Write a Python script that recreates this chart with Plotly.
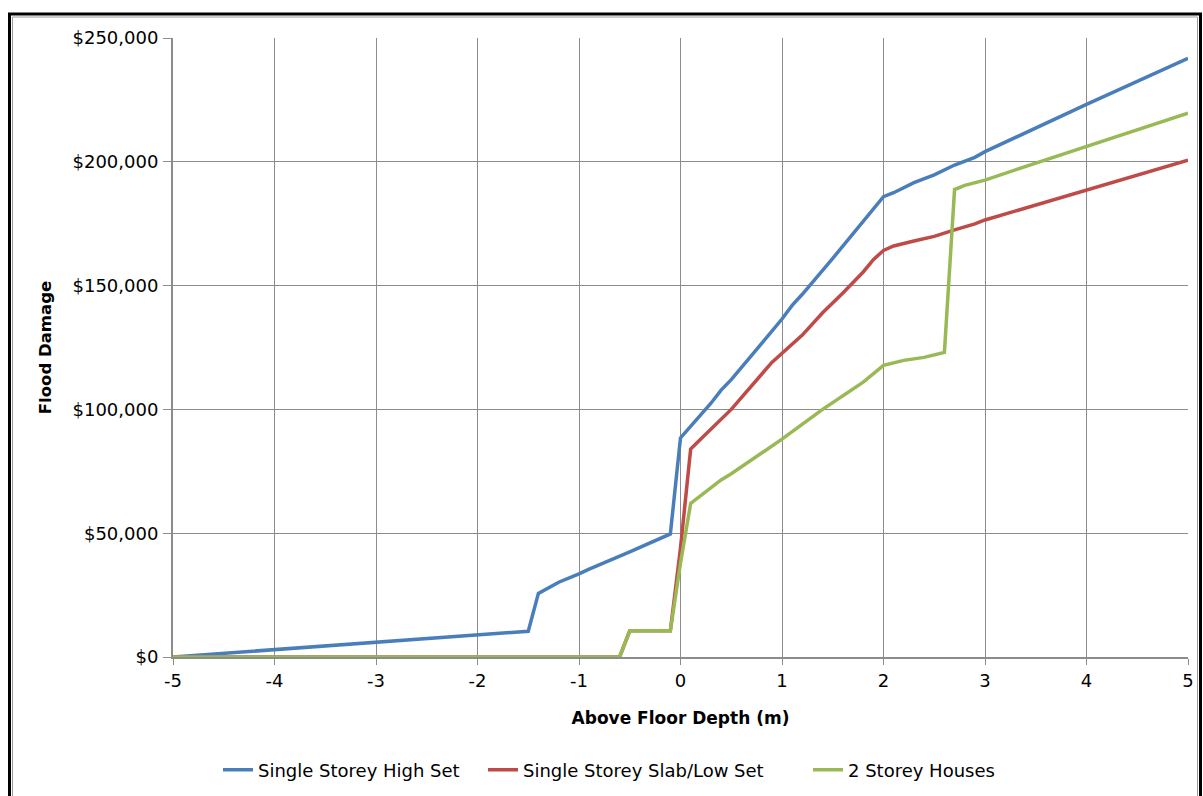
import plotly.graph_objects as go

# Single Storey High Set
high_x = [-5, -1.5, -1.4, -1.2, -1.0, -0.9, -0.5, -0.4, -0.1, 0, 0.3, 0.4, 0.5, 0.8, 1.0, 1.1, 1.2,
          1.5, 1.7, 1.9, 2.0, 2.1, 2.3, 2.5, 2.7, 2.9, 3.0, 4.0, 5.0]
high_y = [0, 10400, 25700, 30200, 33600, 35500, 42500, 44300, 49700, 88500, 102500, 107800, 112000,
          126700, 136500, 142000, 146500, 161000, 171000, 181000, 185900, 187500, 191600, 194700,
          198700, 201800, 204100, 223200, 241800]

# Single Storey Slab/Low Set
low_x = [-5, -0.6, -0.5, -0.1, 0, 0.1, 0.2, 0.5, 0.9, 1.2, 1.4, 1.6, 1.8, 1.9, 2.0, 2.1, 2.3,
         2.5, 2.7, 2.9, 3.0, 4.0, 5.0]
low_y = [0, 0, 10600, 10600, 44000, 84000, 88000, 100000, 119000, 130000, 139000, 147000, 155500,
         160500, 164200, 166000, 168000, 169900, 172500, 174900, 176500, 188600, 200700]

# 2 Storey Houses
two_x = [-5, -0.6, -0.5, -0.1, 0, 0.1, 0.4, 0.5, 1.0, 1.4, 1.8, 2.0, 2.2, 2.4, 2.6, 2.7, 2.8,
         2.9, 3.0, 3.5, 4.0, 4.5, 5.0]
two_y = [0, 0, 10600, 10600, 38000, 62000, 71500, 74000, 88000, 100000, 111000, 117800, 119800,
         121000, 123000, 188800, 190500, 191500, 192600, 199500, 206100, 212800, 219600]

series_names = ["Single Storey High Set", "Single Storey Slab/Low Set", "2 Storey Houses"]
colors = ["#4A7EBB", "#BE4B48", "#98B954"]

x_ticks = [-5, -4, -3, -2, -1, 0, 1, 2, 3, 4, 5]
x_labels = ["-5", "-4", "-3", "-2", "-1", "0", "1", "2", "3", "4", "5"]
y_ticks = [0, 50000, 100000, 150000, 200000, 250000]
y_labels = ["$0", "$50,000", "$100,000", "$150,000", "$200,000", "$250,000"]

FONT = "DejaVu Sans, Verdana, sans-serif"

L, R, T, B = 173, 15, 38, 139
W, H = 1203, 796
pw, ph = W - L - R, H - T - B

def px_to_paper_x(px):
    return (px - L) / pw

def px_to_paper_y(py):
    return (H - B - py) / ph

legend_ids = ["legend", "legend2", "legend3"]
legend_left_px = [218, 483, 808]

fig = go.Figure()
for xs, ys, name, c, lid in zip([high_x, low_x, two_x], [high_y, low_y, two_y],
                                series_names, colors, legend_ids):
    fig.add_trace(go.Scatter(x=xs, y=ys, mode="lines", name=name, legend=lid,
                             line=dict(color=c, width=3.5)))

legend_layout = {}
for lid, lx in zip(legend_ids, legend_left_px):
    legend_layout[lid] = dict(orientation="h", xref="container", yref="container",
                              x=lx / W, y=(H - 770) / H,
                              xanchor="left", yanchor="middle", font=dict(size=18),
                              itemwidth=30, bgcolor="rgba(0,0,0,0)")

fig.update_layout(
    width=W, height=H,
    margin=dict(l=L, r=R, t=T, b=B, autoexpand=False),
    paper_bgcolor="white", plot_bgcolor="white",
    font=dict(family=FONT, size=18, color="black"),
    showlegend=True,
    **legend_layout,
    xaxis=dict(range=[-5, 5], tickvals=x_ticks, ticktext=x_labels, automargin=False,
               showgrid=True, gridcolor="#8C8C8C", gridwidth=1,
               showline=True, linecolor="#8C8C8C", linewidth=2, zeroline=False,
               ticks="outside", ticklen=6, tickcolor="#8C8C8C",
               title=dict(text="<b>Above Floor Depth (m)</b>", font=dict(size=17), standoff=23),
               tickfont=dict(size=18)),
    yaxis=dict(range=[0, 250000], tickvals=y_ticks, ticktext=y_labels, automargin=False,
               showgrid=True, gridcolor="#8C8C8C", gridwidth=1,
               showline=True, linecolor="#8C8C8C", linewidth=2, zeroline=False,
               ticks="outside", ticklen=8, tickcolor="#8C8C8C", ticklabelstandoff=1,
               title=dict(text="<b>Flood Damage</b>", font=dict(size=16.5), standoff=17),
               tickfont=dict(size=18)),
    shapes=[
        dict(type="rect", xref="paper", yref="paper",
             x0=px_to_paper_x(9.5), x1=px_to_paper_x(1200.5),
             y0=px_to_paper_y(810), y1=px_to_paper_y(14),
             line=dict(color="black", width=3), layer="above"),
        dict(type="rect", xref="paper", yref="paper",
             x0=px_to_paper_x(12.5), x1=px_to_paper_x(1197.5),
             y0=px_to_paper_y(810), y1=px_to_paper_y(17),
             line=dict(color="#9A9A9A", width=1), layer="above"),
    ],
)

fig.write_html("out.html", config={"displayModeBar": False},
               post_script="document.body.style.margin='0px';document.body.style.overflow='hidden';")
